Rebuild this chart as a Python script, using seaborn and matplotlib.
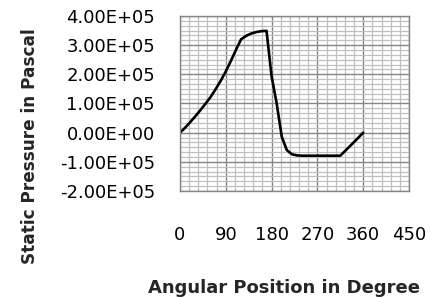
import numpy as np
import pandas as pd
import matplotlib
matplotlib.use("Agg")
import matplotlib.pyplot as plt
from matplotlib.ticker import FuncFormatter, AutoMinorLocator
import seaborn as sns

# angular position (deg) and static pressure (Pa)
angle = [0, 10, 20, 30, 40, 50, 60, 70, 80, 90, 100, 110, 120, 130, 140, 150,
         160, 170, 180, 190, 200, 210, 220, 230, 240, 260, 280, 300, 315, 330, 345, 360]
pressure = [0, 0.17e5, 0.36e5, 0.56e5, 0.77e5, 0.99e5, 1.22e5, 1.49e5, 1.78e5, 2.10e5,
            2.46e5, 2.84e5, 3.20e5, 3.32e5, 3.40e5, 3.45e5, 3.48e5, 3.49e5, 1.93e5,
            1.00e5, -0.14e5, -0.60e5, -0.74e5, -0.78e5, -0.79e5, -0.79e5, -0.79e5,
            -0.79e5, -0.79e5, -0.53e5, -0.27e5, 0]

x_ticks = [0, 90, 180, 270, 360, 450]
y_ticks = [-2e5, -1e5, 0, 1e5, 2e5, 3e5, 4e5]

df = pd.DataFrame({"Angle": angle, "Pressure": pressure})

sns.set_style("white")
plt.rcParams['font.family'] = ['DejaVu Sans']

fig = plt.figure(figsize=(4.31, 2.97), dpi=100)
ax = fig.add_axes([180/431, 1 - 191/297, 229/431, 175/297])

sns.lineplot(data=df, x="Angle", y="Pressure", ax=ax, color="black", linewidth=1.9)

ax.set_xlim(0, 450)
ax.set_ylim(-2e5, 4e5)
ax.set_xticks(x_ticks)
ax.set_yticks(y_ticks)
ax.xaxis.set_minor_locator(AutoMinorLocator(5))
ax.yaxis.set_minor_locator(AutoMinorLocator(6))
ax.yaxis.set_major_formatter(FuncFormatter(lambda v, p: f"{v:.2E}"))

ax.grid(which="major", color="#858585", linewidth=1.0)
ax.grid(which="minor", color="#c0c0c0", linewidth=0.9)
ax.set_axisbelow(True)
for s in ax.spines.values():
    s.set_color("#858585")
    s.set_linewidth(1.0)

ax.tick_params(axis="both", which="both", length=0, labelsize=13, colors="black")
ax.tick_params(axis="y", pad=18)
ax.tick_params(axis="x", pad=25)

ax.set_xlabel("")
ax.set_ylabel("")
fig.text(284/431, 1 - 293/297, "Angular Position in Degree", ha="center", va="baseline",
         fontsize=13, fontweight="bold")
fig.text(30/431, 1 - 146/297, "Static Pressure in Pascal", ha="center", va="center",
         rotation=90, fontsize=12.2, fontweight="bold")

fig.savefig("out.png", dpi=100)
